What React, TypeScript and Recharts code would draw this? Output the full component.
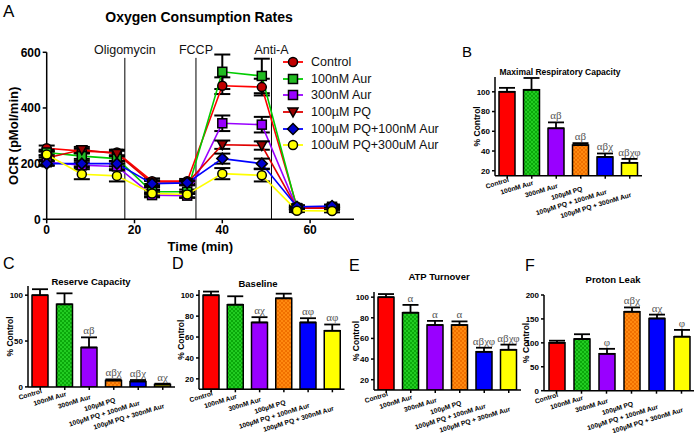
import React from "react";
import {
  LineChart,
  Line,
  XAxis,
  YAxis,
  ErrorBar,
  ReferenceLine,
  BarChart,
  Bar,
  Cell,
  LabelList,
} from "recharts";

// ---- panel A: oxygen consumption time course ----
const times = [0, 8, 16, 24, 32, 40, 49, 57, 65];
const ocrControl = [255, 245, 240, 137, 137, 480, 475, 45, 45];
const ocrAur100 = [240, 227, 218, 99, 99, 530, 515, 40, 45];
const ocrAur300 = [205, 194, 190, 87, 85, 345, 340, 40, 40];
const ocrPQ = [220, 250, 236, 130, 130, 268, 265, 40, 40];
const ocrPQAur100 = [200, 200, 200, 128, 131, 218, 200, 45, 48];
const ocrPQAur300 = [233, 162, 156, 93, 89, 164, 158, 31, 30];

const errControl = [10, 8, 10, 10, 8, 30, 30, 5, 5];
const errAur100 = [10, 10, 10, 8, 8, 62, 62, 5, 5];
const errAur300 = [10, 8, 10, 8, 8, 28, 28, 5, 5];
const errPQ = [10, 10, 10, 8, 8, 15, 15, 5, 5];
const errPQAur100 = [8, 10, 10, 12, 8, 18, 18, 5, 5];
const errPQAur300 = [10, 18, 20, 10, 10, 20, 22, 5, 5];

const injectionNames = ["Oligomycin", "FCCP", "Anti-A"];
const injectionTimes = [17.8, 34, 51.2];

const lineNames = [
  "Control",
  "100nM Aur",
  "300nM Aur",
  "100µM PQ",
  "100µM PQ+100nM Aur",
  "100uM PQ+300uM Aur",
];

// ---- bar panels ----
const groups = [
  "Control",
  "100nM Aur",
  "300nM Aur",
  "100µM PQ",
  "100µM PQ + 100nM Aur",
  "100µM PQ + 300nM Aur",
];

const maxResp = [100, 102, 63, 46, 34, 28];
const maxRespErr = [4, 12, 6, 2, 3.5, 4];
const maxRespSig = ["", "", "αβ", "αβ", "αβχ", "αβχφ"];

const reserve = [100, 90, 43, 7, 6, 2.5];
const reserveErr = [6.5, 12, 11, 1.2, 1.5, 1];
const reserveSig = ["", "", "αβ", "αβχ", "αβχ", "αχ"];

const baseline = [100, 91, 74, 97, 74, 66];
const baselineErr = [3.5, 8, 5, 4.5, 4, 6];
const baselineSig = ["", "", "αχ", "", "αφ", "αφ"];

const atp = [100, 85, 73, 73, 47, 49];
const atpErr = [3, 7.5, 4, 3.5, 4, 5];
const atpSig = ["", "α", "α", "α", "αβχφ", "αβχφ"];

const leak = [100, 108, 77, 165, 151, 113];
const leakErr = [4.5, 10, 10.5, 9, 8, 14];
const leakSig = ["", "", "φ", "αβχ", "αχ", "φ"];

const SANS = "'Liberation Sans', Arial, Helvetica, sans-serif";
const SERIF = "'Liberation Serif', 'Times New Roman', serif";

const lineSeries = [
  { key: "c", vals: ocrControl, errs: errControl, color: "#ff0000", fill: "#c00000", shape: "circle" },
  { key: "g", vals: ocrAur100, errs: errAur100, color: "#00cc00", fill: "#22bb22", shape: "square" },
  { key: "p", vals: ocrAur300, errs: errAur300, color: "#9900ff", fill: "#9900ff", shape: "square" },
  { key: "q", vals: ocrPQ, errs: errPQ, color: "#e00000", fill: "#990000", shape: "triangle" },
  { key: "b", vals: ocrPQAur100, errs: errPQAur100, color: "#0000ff", fill: "#0000cc", shape: "diamond" },
  { key: "y", vals: ocrPQAur300, errs: errPQAur300, color: "#ffff00", fill: "#ffff00", shape: "circle" },
];

const ocrData = times.map((t, i) => {
  const row: Record<string, number> = { t };
  lineSeries.forEach((s) => {
    row[s.key] = s.vals[i];
    row[s.key + "E"] = s.errs[i];
  });
  return row;
});

function Marker({ shape, cx, cy, fill }: { shape: string; cx: number; cy: number; fill: string }) {
  const st = { fill, stroke: "#000", strokeWidth: 1.5 };
  if (shape === "circle") return <circle cx={cx} cy={cy} r={4.5} {...st} />;
  if (shape === "square") return <rect x={cx - 4.5} y={cy - 4.5} width={9} height={9} {...st} />;
  if (shape === "triangle")
    return <polygon points={`${cx - 5},${cy - 4} ${cx + 5},${cy - 4} ${cx},${cy + 5}`} {...st} />;
  return <polygon points={`${cx},${cy - 5.5} ${cx + 5.5},${cy} ${cx},${cy + 5.5} ${cx - 5.5},${cy}`} {...st} />;
}

function OcrLegend() {
  return (
    <div style={{ position: "absolute", left: 281, top: 54, fontFamily: SANS, fontSize: 12.5, color: "#111" }}>
      {lineSeries.map((s, i) => (
        <div key={s.key} style={{ display: "flex", alignItems: "center", height: 16.6, whiteSpace: "nowrap" }}>
          <svg width={26} height={14} style={{ marginRight: 4 }}>
            <line x1={2} y1={7} x2={22} y2={7} stroke={s.color} strokeWidth={1.8} />
            <Marker shape={s.shape} cx={12} cy={7} fill={s.fill} />
          </svg>
          <span>{lineNames[i]}</span>
        </div>
      ))}
    </div>
  );
}

function OcrPanel() {
  return (
    <div style={{ position: "absolute", left: 0, top: 30 }}>
      <LineChart
        width={360}
        height={230}
        data={ocrData}
        margin={{ top: 22.3, right: 6, left: 0, bottom: 0 }}
      >
        <XAxis
          dataKey="t"
          type="number"
          domain={[0, 70]}
          ticks={[0, 20, 40, 60]}
          height={40.7}
          stroke="#000"
          strokeWidth={1.5}
          tickSize={4}
          tick={{ fill: "#000", fontSize: 12, fontWeight: "bold", fontFamily: SANS }}
          label={{
            value: "Time (min)",
            position: "insideBottom",
            offset: 9,
            style: { fill: "#000", fontSize: 13, fontWeight: "bold", fontFamily: SANS },
          }}
        />
        <YAxis
          domain={[0, 600]}
          ticks={[0, 200, 400, 600]}
          width={46.7}
          stroke="#000"
          strokeWidth={1.5}
          tickSize={4}
          tick={{ fill: "#000", fontSize: 12, fontWeight: "bold", fontFamily: SANS }}
          label={{
            value: "OCR (pMol/min)",
            angle: -90,
            position: "insideLeft",
            offset: 13,
            style: { fill: "#000", fontSize: 13, fontWeight: "bold", fontFamily: SANS, textAnchor: "middle" },
          }}
        />
        {injectionTimes.map((t, i) => (
          <ReferenceLine
            key={injectionNames[i]}
            segment={[
              { x: t, y: 580 },
              { x: t, y: 0 },
            ]}
            stroke="#000"
            strokeWidth={1}
            ifOverflow="visible"
            label={{
              value: injectionNames[i],
              position: "top",
              offset: 4,
              style: { fill: "#111", fontSize: 12.5, fontFamily: SANS },
            }}
          />
        ))}
        {lineSeries.map((s) => (
          <Line
            key={s.key}
            dataKey={s.key}
            stroke={s.color}
            strokeWidth={1.6}
            isAnimationActive={false}
            dot={(p: any) => <Marker key={p.index} shape={s.shape} cx={p.cx} cy={p.cy} fill={s.fill} />}
          >
            <ErrorBar dataKey={s.key + "E"} width={8} strokeWidth={2} stroke="#000" direction="y" />
          </Line>
        ))}
      </LineChart>
    </div>
  );
}

const CatTick = (props: any) => {
  const { x, y, payload } = props;
  const i = props.index ?? payload.index ?? 0;
  const ty = y + 1 + i * 3;
  return (
    <text
      x={x + 2}
      y={ty}
      textAnchor="end"
      transform={`rotate(-17, ${x + 2}, ${ty})`}
      fill="#000"
      fontSize={6.7}
      fontWeight="bold"
      fontFamily={SANS}
    >
      {payload.value}
    </text>
  );
};

type PanelProps = {
  id: string;
  values: number[];
  errs: number[];
  sigs: string[];
  domain: [number, number];
  ticks: number[];
  plot: [number, number, number, number];
};

function BarPanel({ id, values, errs, sigs, domain, ticks, plot }: PanelProps) {
  const [x1, y1, x2, y2] = plot;
  const axisW = 50;
  const mTop = 20;
  const xAxisH = 60;
  const left = x1 - axisW;
  const top = y1 - mTop;
  const width = x2 - left + 4;
  const height = y2 - top + xAxisH;
  const rows = groups.map((name, i) => ({ name, v: values[i], e: [0, errs[i]], sig: sigs[i] }));
  const fills = ["#ff0000", `url(#gr-${id})`, "#9900ff", `url(#or-${id})`, "#0000ff", "#ffff00"];

  const renderSig = (p: any) => {
    const { x, y, width: w, height: h, index } = p;
    const label = sigs[index];
    if (!label) return null;
    const perUnit = h / (values[index] - domain[0]);
    const yTop = y - errs[index] * perUnit;
    return (
      <text
        key={index}
        x={x + w / 2}
        y={yTop - 3}
        textAnchor="middle"
        fill="#555"
        fontSize={11}
        fontFamily={SERIF}
      >
        {label}
      </text>
    );
  };

  return (
    <div style={{ position: "absolute", left, top }}>
      <BarChart
        width={width}
        height={height}
        data={rows}
        margin={{ top: mTop, right: 4, left: 0, bottom: 0 }}
        barSize={16}
      >
        <defs>
          <pattern id={`gr-${id}`} width={4} height={4} patternUnits="userSpaceOnUse">
            <rect width={4} height={4} fill="#22cc22" />
            <rect width={2} height={2} fill="#0aa80a" />
            <rect x={2} y={2} width={2} height={2} fill="#0aa80a" />
          </pattern>
          <pattern id={`or-${id}`} width={4} height={4} patternUnits="userSpaceOnUse">
            <rect width={4} height={4} fill="#ff8a10" />
            <rect width={2} height={2} fill="#f07000" />
            <rect x={2} y={2} width={2} height={2} fill="#f07000" />
          </pattern>
        </defs>
        <XAxis
          dataKey="name"
          interval={0}
          height={xAxisH}
          stroke="#000"
          strokeWidth={1.5}
          tickSize={3}
          tick={<CatTick />}
        />
        <YAxis
          domain={domain}
          ticks={ticks}
          allowDataOverflow
          width={axisW}
          stroke="#000"
          strokeWidth={1.5}
          tickSize={3}
          tick={{ fill: "#000", fontSize: 8, fontWeight: "bold", fontFamily: SANS }}
          label={{
            value: "% Control",
            angle: -90,
            position: "insideLeft",
            offset: 32,
            style: { fill: "#000", fontSize: 8.5, fontWeight: "bold", fontFamily: SANS, textAnchor: "middle" },
          }}
        />
        <Bar dataKey="v" stroke="#000" strokeWidth={1.5} isAnimationActive={false}>
          {rows.map((r, i) => (
            <Cell key={r.name} fill={fills[i]} />
          ))}
          <ErrorBar dataKey="e" width={8} strokeWidth={1.8} stroke="#000" direction="y" />
          <LabelList dataKey="sig" content={renderSig} />
        </Bar>
      </BarChart>
    </div>
  );
}

function Title({ text, cx, cy, size }: { text: string; cx: number; cy: number; size: number }) {
  return (
    <div
      style={{
        position: "absolute",
        left: cx - 150,
        width: 300,
        top: cy - size * 0.5,
        textAlign: "center",
        fontFamily: SANS,
        fontWeight: "bold",
        fontSize: size,
        lineHeight: 1,
        color: "#000",
        whiteSpace: "nowrap",
      }}
    >
      {text}
    </div>
  );
}

function Letter({ text, x, y, size }: { text: string; x: number; y: number; size: number }) {
  return (
    <div
      style={{
        position: "absolute",
        left: x,
        top: y - size * 0.13,
        fontFamily: SANS,
        fontSize: size,
        lineHeight: 1,
        color: "#000",
      }}
    >
      {text}
    </div>
  );
}

export default function App() {
  return (
    <div
      style={{
        position: "absolute",
        left: 0,
        top: 0,
        width: 697,
        height: 433,
        background: "#fff",
        overflow: "hidden",
      }}
    >
      <Letter text="A" x={3} y={5} size={17} />
      <Title text="Oxygen Consumption Rates" cx={199} cy={17} size={14} />
      <OcrPanel />
      <OcrLegend />

      <Letter text="B" x={462} y={46} size={15} />
      <Title text="Maximal Respiratory Capacity" cx={560} cy={72} size={8.5} />
      <BarPanel
        id="b"
        values={maxResp}
        errs={maxRespErr}
        sigs={maxRespSig}
        domain={[15, 115]}
        ticks={[20, 40, 60, 80, 100]}
        plot={[495, 77, 642, 175.7]}
      />

      <Letter text="C" x={3} y={258} size={16} />
      <Title text="Reserve Capacity" cx={91} cy={282} size={9.5} />
      <BarPanel
        id="c"
        values={reserve}
        errs={reserveErr}
        sigs={reserveSig}
        domain={[0, 110]}
        ticks={[0, 50, 100]}
        plot={[27.5, 285.8, 174.5, 386.7]}
      />

      <Letter text="D" x={172} y={258} size={16} />
      <Title text="Baseline" cx={258} cy={284} size={9.5} />
      <BarPanel
        id="d"
        values={baseline}
        errs={baselineErr}
        sigs={baselineSig}
        domain={[10, 105]}
        ticks={[20, 40, 60, 80, 100]}
        plot={[198.5, 290, 344, 389.3]}
      />

      <Letter text="E" x={349} y={260} size={16} />
      <Title text="ATP Turnover" cx={439} cy={277} size={9.5} />
      <BarPanel
        id="e"
        values={atp}
        errs={atpErr}
        sigs={atpSig}
        domain={[10, 105]}
        ticks={[20, 40, 60, 80, 100]}
        plot={[374, 292, 521, 390]}
      />

      <Letter text="F" x={525} y={260} size={16} />
      <Title text="Proton Leak" cx={613} cy={280} size={9.5} />
      <BarPanel
        id="f"
        values={leak}
        errs={leakErr}
        sigs={leakSig}
        domain={[0, 200]}
        ticks={[0, 50, 100, 150, 200]}
        plot={[544, 295, 694, 390.7]}
      />
    </div>
  );
}
